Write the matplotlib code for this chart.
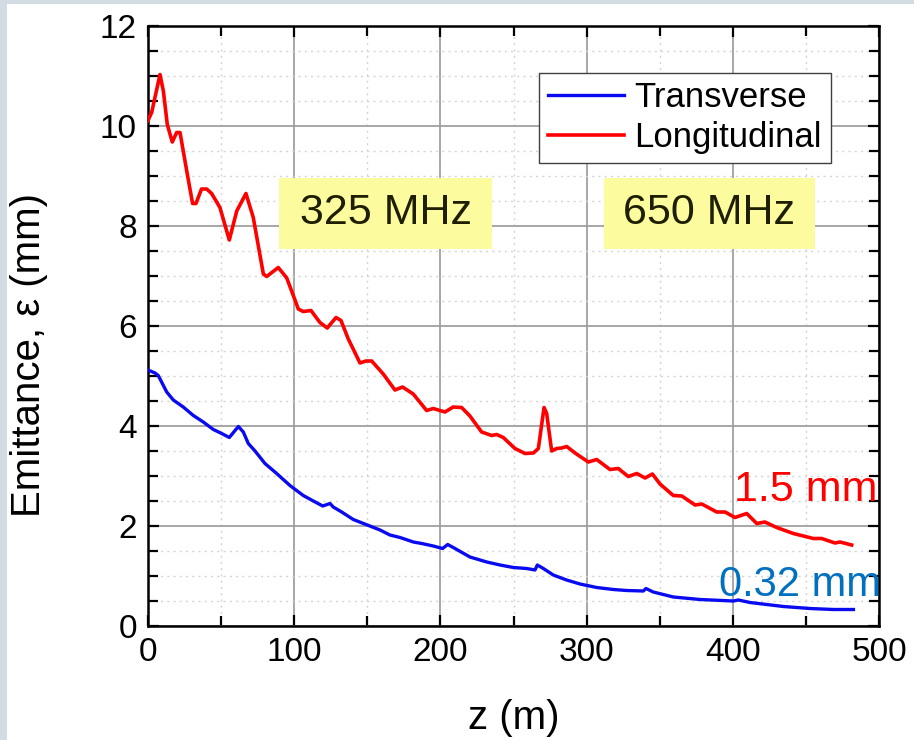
import matplotlib
matplotlib.use("Agg")
import matplotlib.pyplot as plt
import matplotlib.patches as mpatches
from matplotlib.ticker import MultipleLocator

plt.rcParams["font.family"] = ["Liberation Sans", "DejaVu Sans"]

# curvas
z_long = [0, 2.5, 8.2, 10.5, 13.2, 16.6, 19.6, 21.9, 26.5, 30.5, 32.8, 36.6, 40.1, 43.5,
          49.2, 55.6, 60.7, 67.0, 72.0, 78.9, 81.2, 89.1, 94.9, 99.4, 102.8, 106.2, 111.5,
          117.6, 122.6, 128.6, 132.0, 137.0, 145.0, 149.1, 153.0, 160.9, 168.9, 174.1,
          181.4, 190.6, 195.1, 203.1, 208.8, 214.5, 220.2, 228.2, 235.1, 238.5, 243.0,
          251.0, 257.9, 263.6, 267.0, 270.9, 272.7, 276.1, 279.5, 283.0, 286.4, 292.1,
          301.2, 306.9, 316.0, 321.7, 328.5, 334.3, 340.0, 345.0, 350.2, 359.3, 365.1,
          374.2, 378.8, 389.0, 394.7, 401.5, 409.5, 416.4, 422.0, 430.0, 441.4, 455.1,
          460.8, 469.9, 473.3, 481.3]
eps_long = [10.11, 10.27, 11.03, 10.70, 10.03, 9.68, 9.87, 9.87, 9.10, 8.45, 8.45, 8.74,
            8.74, 8.65, 8.37, 7.72, 8.30, 8.65, 8.17, 7.04, 6.99, 7.17, 6.96, 6.61, 6.34,
            6.29, 6.31, 6.07, 5.96, 6.17, 6.11, 5.74, 5.26, 5.30, 5.30, 5.04, 4.72, 4.78,
            4.64, 4.31, 4.35, 4.28, 4.38, 4.37, 4.20, 3.88, 3.81, 3.83, 3.77, 3.55, 3.45,
            3.46, 3.55, 4.37, 4.25, 3.50, 3.55, 3.56, 3.59, 3.46, 3.28, 3.33, 3.13, 3.15,
            2.99, 3.05, 2.96, 3.04, 2.84, 2.61, 2.60, 2.42, 2.44, 2.28, 2.28, 2.17, 2.25,
            2.05, 2.08, 1.97, 1.85, 1.75, 1.75, 1.66, 1.68, 1.62]

z_trans = [0, 4.8, 7.0, 12.8, 17.3, 24.1, 31.0, 37.8, 44.7, 50.4, 55.6, 61.8, 65.2, 68.6,
           73.2, 80.0, 88.0, 97.1, 106.2, 113.1, 119.5, 124.5, 126.7, 132.5, 140.4, 158.7,
           165.5, 172.4, 181.5, 187.2, 195.1, 201.5, 205.0, 210.0, 220.2, 231.7, 240.8,
           249.9, 259.0, 264.7, 266.3, 270.4, 277.2, 286.3, 295.5, 306.9, 318.3, 327.4,
           338.8, 340.6, 345.6, 359.3, 377.6, 400.4, 403.8, 411.8, 434.6, 452.8, 468.8, 482.5]
eps_trans = [5.12, 5.06, 5.01, 4.68, 4.52, 4.38, 4.21, 4.08, 3.93, 3.85, 3.77, 3.99, 3.88,
             3.65, 3.50, 3.25, 3.05, 2.81, 2.61, 2.50, 2.40, 2.45, 2.38, 2.28, 2.13, 1.92,
             1.82, 1.77, 1.68, 1.65, 1.60, 1.55, 1.63, 1.55, 1.38, 1.28, 1.22, 1.17, 1.15,
             1.12, 1.22, 1.15, 1.02, 0.92, 0.84, 0.77, 0.73, 0.71, 0.70, 0.75, 0.68, 0.58,
             0.53, 0.50, 0.52, 0.47, 0.39, 0.35, 0.33, 0.33]

labels = ["Transverse", "Longitudinal"]
freq_labels = ["325 MHz", "650 MHz"]
freq_spans = [(89.6, 235.3), (311.9, 456.2)]
final_labels = ["1.5 mm", "0.32 mm"]

RED = "#ff0000"; BLUE = "#0a0af0"; LBLUE = "#0070c0"
YEL = "#fcfc9e"; EDGE = "#d3dbe5"

fig = plt.figure(figsize=(9.14, 7.40), dpi=100, facecolor="white")
# faixa do slide no canto
fig.patches.append(mpatches.Rectangle((0, 0), 7 / 914, 1, transform=fig.transFigure,
                                      facecolor=EDGE, edgecolor="none", zorder=0))
fig.patches.append(mpatches.Rectangle((0, 1 - 4 / 740), 1, 4 / 740, transform=fig.transFigure,
                                      facecolor=EDGE, edgecolor="none", zorder=0))

ax = fig.add_axes([148 / 914, 1 - 626 / 740, 731 / 914, 600 / 740])
ax.set_xlim(0, 500); ax.set_ylim(0, 12)
ax.xaxis.set_major_locator(MultipleLocator(100)); ax.xaxis.set_minor_locator(MultipleLocator(50))
ax.yaxis.set_major_locator(MultipleLocator(2)); ax.yaxis.set_minor_locator(MultipleLocator(0.5))
ax.grid(True, which="major", color="#a0a0a0", linewidth=1.3, zorder=0)
ax.grid(True, which="minor", color="#d4d4d4", linewidth=1.0, linestyle=(0, (1.5, 3)), zorder=0)
ax.set_axisbelow(True)
ax.tick_params(which="both", direction="in", top=True, right=True, width=1.6,
               labelsize=24, pad=8)
ax.tick_params(which="major", length=8)
ax.tick_params(which="minor", length=7)
for sp in ax.spines.values():
    sp.set_linewidth(1.8)

for (x0, x1), txt in zip(freq_spans, freq_labels):
    ax.add_patch(mpatches.Rectangle((x0, 7.54), x1 - x0, 1.42, facecolor=YEL,
                                    edgecolor="none", zorder=2))
    ax.text((x0 + x1) / 2, 8.25, txt, ha="center", va="center", fontsize=31,
            color="#1e1e00", zorder=3)

ax.plot(z_trans, eps_trans, color=BLUE, linewidth=2.4, label=labels[0], zorder=4,
        solid_joinstyle="round")
ax.plot(z_long, eps_long, color=RED, linewidth=2.6, label=labels[1], zorder=4,
        solid_joinstyle="round")

ax.text(499, 2.5, final_labels[0], color=RED, fontsize=31, ha="right", va="baseline", zorder=5)
ax.text(501, 0.6, final_labels[1], color=LBLUE, fontsize=30, ha="right", va="baseline", zorder=5)

leg = ax.legend(loc="upper right", bbox_to_anchor=(0.934, 0.922), borderaxespad=0,
                fontsize=25, fancybox=False, framealpha=1, edgecolor="#404040",
                handlelength=2.2, handletextpad=0.3, labelspacing=0.2, borderpad=0.25)
leg.get_frame().set_linewidth(1.0)
leg.set_zorder(6)

ax.set_xlabel("z (m)", fontsize=29)
ax.xaxis.set_label_coords(0.5, -0.153)
ax.xaxis.label.set_verticalalignment("center")
ax.set_ylabel("Emittance, ε (mm)", fontsize=29)
ax.yaxis.set_label_coords(-0.163, 0.452)
ax.yaxis.label.set_verticalalignment("center")

plt.savefig("out.png", dpi=100, facecolor="white")
plt.close(fig)
